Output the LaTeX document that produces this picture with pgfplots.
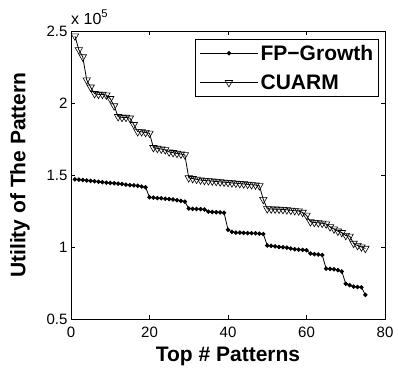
\documentclass[border=0pt]{standalone}
\usepackage{pgfplots}
\pgfplotsset{compat=1.18}
\usepackage{pgfplotstable}
\usepackage{fontspec}
\setmainfont{Liberation Sans}

\pgfplotstableread{
x y
1 1.470
2 1.468
3 1.465
4 1.462
5 1.460
6 1.457
7 1.453
8 1.450
9 1.447
10 1.445
11 1.443
12 1.440
13 1.437
14 1.433
15 1.430
16 1.428
17 1.425
18 1.420
19 1.415
20 1.345
21 1.343
22 1.340
23 1.338
24 1.335
25 1.333
26 1.330
27 1.325
28 1.320
29 1.315
30 1.268
31 1.265
32 1.264
33 1.263
34 1.260
35 1.245
36 1.243
37 1.242
38 1.240
39 1.238
40 1.120
41 1.105
42 1.100
43 1.100
44 1.098
45 1.097
46 1.096
47 1.095
48 1.093
49 1.090
50 1.010
51 1.008
52 1.005
53 1.000
54 0.998
55 0.995
56 0.990
57 0.985
58 0.982
59 0.980
60 0.978
61 0.955
62 0.950
63 0.948
64 0.945
65 0.850
66 0.848
67 0.845
68 0.840
69 0.830
70 0.745
71 0.735
72 0.725
73 0.722
74 0.720
75 0.668
}\fpgrowth

\pgfplotstableread{
x y
1 2.465
2 2.370
3 2.320
4 2.160
5 2.110
6 2.065
7 2.060
8 2.060
9 2.055
10 2.030
11 1.980
12 1.905
13 1.900
14 1.900
15 1.895
16 1.850
17 1.800
18 1.800
19 1.795
20 1.790
21 1.690
22 1.685
23 1.680
24 1.675
25 1.660
26 1.655
27 1.650
28 1.645
29 1.640
30 1.480
31 1.475
32 1.470
33 1.465
34 1.462
35 1.460
36 1.458
37 1.455
38 1.452
39 1.450
40 1.448
41 1.445
42 1.443
43 1.440
44 1.438
45 1.435
46 1.432
47 1.430
48 1.425
49 1.330
50 1.265
51 1.264
52 1.263
53 1.262
54 1.260
55 1.258
56 1.255
57 1.252
58 1.250
59 1.240
60 1.220
61 1.175
62 1.170
63 1.168
64 1.165
65 1.160
66 1.140
67 1.125
68 1.110
69 1.100
70 1.080
71 1.075
72 1.025
73 1.010
74 1.000
75 0.990
}\cuarm

\begin{document}
\begin{tikzpicture}
\begin{axis}[
  name=main,
  scale only axis,
  clip mode=individual,
  width=314pt, height=288pt,
  xmin=0, xmax=80, ymin=0.5, ymax=2.5,
  xtick={0,20,40,60,80},
  ytick={0.5,1,1.5,2,2.5},
  yticklabels={0.5,1,1.5,2,2.5},
  /pgf/number format/assume math mode=true,
  tick label style={font=\fontsize{15}{17}\selectfont},
  xticklabel style={yshift=-4pt},
  tick align=inside,
  major tick length=4pt,
  axis line style={line width=0.9pt},
  tick style={line width=0.6pt, black},
  xlabel={Top \# Patterns},
  ylabel={Utility of The Pattern},
  label style={font=\fontsize{21}{24}\selectfont\bfseries},
  xlabel style={yshift=-3pt},
  ylabel style={yshift=10pt},
  legend style={at={(rel axis cs:0.981,0.972)}, anchor=north east,
    font=\fontsize{21}{24}\selectfont\bfseries, draw=black, line width=0.6pt,
    inner sep=3.5pt, row sep=9pt, cells={anchor=west}},
  legend image code/.code={%
    \draw[mark repeat=2,mark phase=2] plot coordinates {(0cm,0cm) (1.03cm,0cm) (2.06cm,0cm)};},
]
\addplot[black, line width=0.8pt, mark=*, mark size=1.8pt] table[x=x,y=y] {\fpgrowth};
\addlegendentry{FP\textminus Growth}
\addplot[black, line width=0.8pt, mark=triangle, mark size=4.3pt, mark options={rotate=180, fill=white, line width=0.6pt}] table[x=x,y=y] {\cuarm};
\addlegendentry{CUARM}
\node[anchor=base west, inner sep=0pt, font=\fontsize{16}{18}\selectfont] at (rel axis cs:0,1) [yshift=7pt] {x 10\textsuperscript{5}};
\end{axis}
\path ([yshift=31pt]main.north west) -- ([yshift=31pt]main.north east);
\path ([xshift=-71pt,yshift=-49pt]main.south west) -- ([xshift=13pt,yshift=-49pt]main.south east);
\end{tikzpicture}
\end{document}
